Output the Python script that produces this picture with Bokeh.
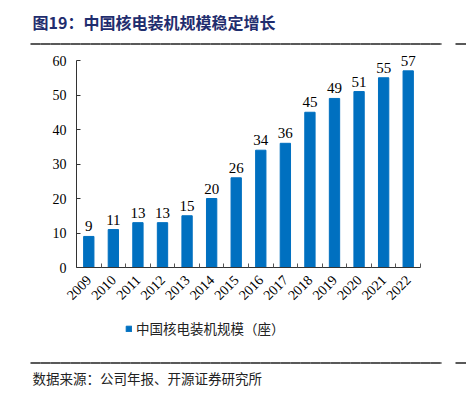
import math
from bokeh.plotting import figure
from bokeh.models import (ColumnDataSource, LabelSet, Label, FixedTicker, Range1d,
                          LinearAxis, Legend, LegendItem)
from bokeh.embed import file_html
from bokeh.resources import INLINE

years = ["2009", "2010", "2011", "2012", "2013", "2014", "2015", "2016",
         "2017", "2018", "2019", "2020", "2021", "2022"]
units = [9, 11, 13, 13, 15, 20, 26, 34, 36, 45, 49, 51, 55, 57]
y_ticks = [0, 10, 20, 30, 40, 50, 60]

title_text = "图19：中国核电装机规模稳定增长"
legend_text = "中国核电装机规模（座）"
source_text = "数据来源：公司年报、开源证券研究所"

BLUE = "#0070C0"
NAVY = "#1F2D6E"
SERIF = "Liberation Serif"
CJK = "Noto Sans CJK SC"
W, H = 466, 395

PX_L, PX_R, PX_T, PX_B = 76, 420, 60, 267
n = len(years)
ymax = y_ticks[-1]
kx = (PX_R - PX_L) / n
ky = (PX_B - PX_T) / ymax


def dx(px):
    return (px - PX_L) / kx


def dy(py):
    return (PX_B - py) / ky


p = figure(width=W, height=H, output_backend="svg", toolbar_location=None,
           x_range=Range1d(dx(0), dx(W)), y_range=Range1d(dy(H), dy(0)),
           min_border=0, x_axis_type=None, y_axis_type=None)
p.outline_line_color = None
p.xgrid.grid_line_color = None
p.ygrid.grid_line_color = None

centers = [i + 0.5 for i in range(n)]
bounds = [i + 1 for i in range(n)]
src = ColumnDataSource(dict(x=centers, top=units, lab=[str(u) for u in units]))

r = p.vbar(x="x", top="top", width=0.42, color=BLUE, source=src)
p.add_layout(LabelSet(x="x", y="top", text="lab", source=src, y_offset=5,
                      text_align="center", text_baseline="bottom",
                      text_font="Lato, 'Open Sans', sans-serif",
                      text_font_size="15px", text_color="black"))

yax = LinearAxis(fixed_location=0, bounds=(0, ymax),
                 ticker=FixedTicker(ticks=y_ticks))
yax.axis_line_color = "#333333"
yax.major_tick_line_color = "#333333"
yax.major_tick_in = 4
yax.major_tick_out = 0
yax.minor_tick_line_color = None
yax.major_label_text_font = SERIF
yax.major_label_text_font_size = "14px"
yax.major_label_text_color = "black"
yax.major_label_standoff = 10
p.add_layout(yax, "left")

xax = LinearAxis(fixed_location=0, bounds=(0, n),
                 ticker=FixedTicker(ticks=centers, minor_ticks=bounds))
xax.major_label_overrides = {c: y for c, y in zip(centers, years)}
xax.axis_line_color = "#333333"
xax.major_tick_line_color = None
xax.minor_tick_line_color = "#555555"
xax.minor_tick_in = 4
xax.minor_tick_out = 0
xax.major_label_orientation = math.pi / 4
xax.major_label_text_font = SERIF
xax.major_label_text_font_size = "14px"
xax.major_label_text_color = "black"
xax.major_label_standoff = 4
p.add_layout(xax, "below")

leg = Legend(items=[LegendItem(label=legend_text, renderers=[r])],
             location=(125, 57), orientation="horizontal",
             glyph_width=7, glyph_height=7, label_height=14,
             label_text_font=CJK, label_text_font_size="13.5px",
             label_text_color="#222222", border_line_color=None,
             background_fill_alpha=0, label_standoff=4, padding=0, margin=0)
p.add_layout(leg, "center")


def rule(y_px):
    x0 = list(range(30, 441, 10)) + [455]
    x1 = [min(x + 10, 441) for x in range(30, 441, 10)] + [466]
    p.segment(x0=[dx(v) for v in x0], x1=[dx(v) for v in x1],
              y0=[dy(y_px)] * len(x0), y1=[dy(y_px)] * len(x0),
              line_color="#222222", line_width=1.3, line_cap="butt")


rule(43.5)
rule(362.5)

p.add_layout(Label(x=32, y=H - 21, x_units="screen", y_units="screen", text=title_text,
                   text_font=CJK, text_font_size="16px", text_font_style="bold",
                   text_color=NAVY, text_baseline="middle"))
p.add_layout(Label(x=32, y=H - 377, x_units="screen", y_units="screen", text=source_text,
                   text_font=CJK, text_font_size="13.5px", text_color="#222222",
                   text_baseline="middle"))

open("out.html", "w").write(file_html(p, INLINE))
